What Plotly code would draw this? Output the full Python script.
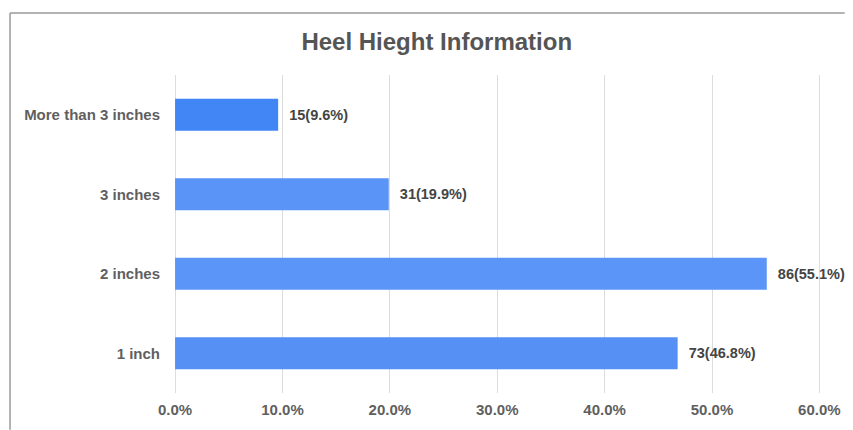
import plotly.graph_objects as go

categories = ["1 inch", "2 inches", "3 inches", "More than 3 inches"]
counts = [73, 86, 31, 15]
percents = [46.8, 55.1, 19.9, 9.6]
bar_colors = ["#5690F5", "#5B95F7", "#5A94F6", "#4285F4"]
tick_vals = [0, 0.1, 0.2, 0.3, 0.4, 0.5, 0.6]

labels = [f"\u00a0\u00a0{c}({p}%)" for c, p in zip(counts, percents)]
xvals = [p / 100 for p in percents]

FONT = "Liberation Sans, Arial, sans-serif"

fig = go.Figure(go.Bar(
    y=categories,
    x=xvals,
    orientation="h",
    marker=dict(color=bar_colors, line=dict(width=0)),
    width=0.4,
    text=labels,
    textposition="outside",
    textfont=dict(family=FONT, size=14.5, color="#444444", weight="bold"),
    cliponaxis=False,
    hoverinfo="skip",
))

fig.update_layout(
    width=853, height=430,
    margin=dict(l=174, r=24, t=75, b=35),
    paper_bgcolor="white",
    plot_bgcolor="white",
    showlegend=False,
    title=dict(
        text="Heel Hieght Information",
        x=0.512, xanchor="center", y=0.904, yanchor="middle",
        font=dict(family=FONT, size=24, color="#555555", weight="bold"),
    ),
    xaxis=dict(
        range=[-0.001, 0.6015],
        tickvals=tick_vals,
        tickformat=".1%",
        showgrid=True, gridcolor="#dcdcdc", gridwidth=1,
        zeroline=False, showline=False,
        ticks="", ticklabelstandoff=6,
        tickfont=dict(family=FONT, size=15, color="#5f5f5f", weight="bold"),
        fixedrange=True,
    ),
    yaxis=dict(
        categoryorder="array", categoryarray=categories,
        showgrid=False, zeroline=False, showline=False,
        ticks="", ticklabelstandoff=13,
        tickfont=dict(family=FONT, size=15, color="#5f5f5f", weight="bold"),
        fixedrange=True,
    ),
)

# border lines (top and left frame of the chart container)
fig.add_shape(type="line", xref="paper", yref="paper",
              x0=(8 - 174) / 655, x1=(853 - 174) / 655,
              y0=(395 - 12.5) / 320, y1=(395 - 12.5) / 320,
              line=dict(color="#9a9a9a", width=1.5))
fig.add_shape(type="line", xref="paper", yref="paper",
              x0=(8 - 174) / 655, x1=(8 - 174) / 655,
              y0=(395 - 12.5) / 320, y1=(395 - 432) / 320,
              line=dict(color="#9a9a9a", width=1.5))

fig.write_html("out.html")
